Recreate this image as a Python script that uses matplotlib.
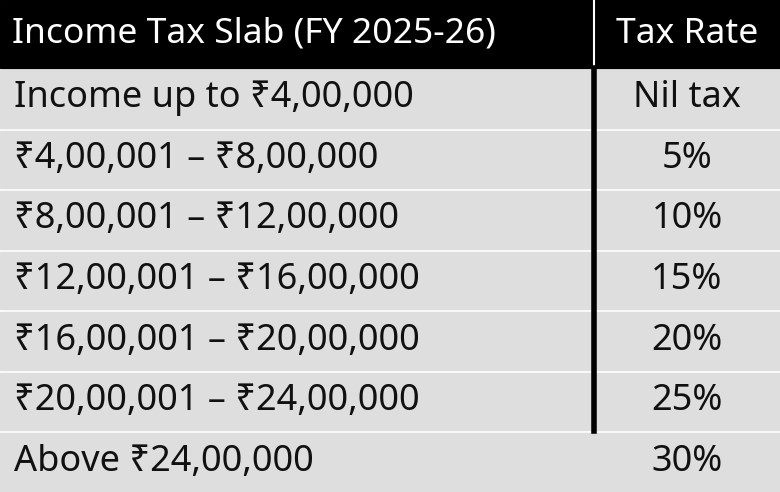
import matplotlib
matplotlib.use('Agg')
from matplotlib import pyplot as plt

plt.rcParams['font.family'] = ['Noto Sans', 'DejaVu Sans']

HEADERS = ['Income Tax Slab (FY 2025-26)', 'Tax Rate']
SLABS = ['Income up to ₹4,00,000', '₹4,00,001 – ₹8,00,000', '₹8,00,001 – ₹12,00,000',
         '₹12,00,001 – ₹16,00,000', '₹16,00,001 – ₹20,00,000', '₹20,00,001 – ₹24,00,000',
         'Above ₹24,00,000']
RATES = ['Nil tax', '5%', '10%', '15%', '20%', '25%', '30%']

W, H = 780, 492
fig = plt.figure(figsize=(W / 100, H / 100), dpi=100)
ax = fig.add_axes([0, 0, 1, 1])
ax.set_xlim(0, W)
ax.set_ylim(H, 0)
ax.axis('off')

header_h = 68
row_h = (H - header_h) / len(SLABS)
div_x = 594

ax.add_patch(plt.Rectangle((0, 0), W, header_h, color='black'))
ax.text(12, header_h / 2, HEADERS[0], color='white', fontsize=25.5, fontweight='bold', va='center')
ax.text((div_x + W) / 2, header_h / 2, HEADERS[1], color='white', fontsize=25.5,
        fontweight='bold', va='center', ha='center')

for i, (slab, rate) in enumerate(zip(SLABS, RATES)):
    y0 = header_h + i * row_h
    ax.add_patch(plt.Rectangle((0, y0 + 2), W, row_h - 3, color='#dedede'))
    ax.text(14, y0 + row_h / 2, slab, fontsize=26, va='center', color='#111111')
    ax.text((div_x + W) / 2, y0 + row_h / 2, rate, fontsize=26, va='center',
            ha='center', color='#111111')

ax.plot([div_x, div_x], [0, header_h + 6 * row_h], color='white', lw=1.5)
ax.plot([div_x, div_x], [header_h, header_h + 6 * row_h], color='black', lw=4)

fig.savefig('out.png', dpi=100)
